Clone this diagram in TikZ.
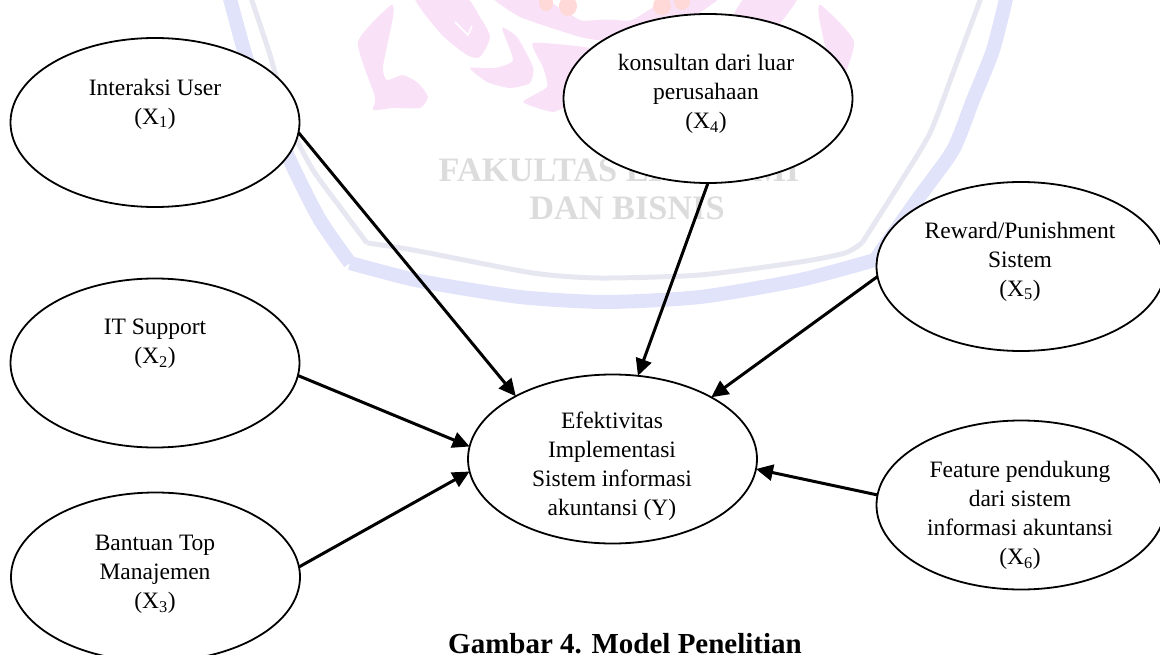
\documentclass[tikz,border=0pt]{standalone}
\usepackage{fontspec}
\setmainfont{Liberation Serif}
\usetikzlibrary{shapes.geometric,arrows.meta}
\definecolor{wmblue}{HTML}{E0E3F9}
\definecolor{wmgrey}{HTML}{E7E7F2}
\definecolor{wmpink}{HTML}{F9E2F8}
\definecolor{wmred}{HTML}{FFD8D8}
\definecolor{wmtext}{HTML}{DCDCDC}
\newcommand{\wmmotif}{%
  \fill[wmpink] plot[smooth cycle,tension=.35] coordinates {(391,5) (358,42) (375,97) (373,110) (393,108) (420,108) (428,97) (418,83) (403,75) (387,80) (383,67) (393,17)};
  \fill[wmpink] plot[smooth cycle,tension=.4] coordinates {(414,-5) (440,33) (467,55) (480,57) (490,37) (480,17) (463,-5)};
  \draw[white,line width=1.5pt] (455,22) -- (468,35) -- (472,26);
  \fill[wmpink] plot[smooth cycle,tension=.35] coordinates {(502,28) (513,60) (495,68) (470,68) (487,82) (510,88) (530,83) (533,67) (517,37)};
  \fill[wmpink] plot[smooth cycle,tension=.3] coordinates {(533,43) (543,67) (547,87) (523,102) (553,112) (575,100) (600,60) (590,48)};
  \fill[wmpink] plot[smooth cycle,tension=.3] coordinates {(490,-5) (520,17) (580,37) (606,40) (606,20) (580,20) (537,-5)};
}
\tikzset{
  construct/.style={ellipse,draw=black,line width=1.8pt,fill=white,minimum width=289pt,minimum height=169pt,inner sep=0pt,outer sep=0pt},
  ctext/.style={align=center,font=\fontsize{23.5}{29}\selectfont,inner sep=0pt},
  influence/.style={line width=3pt,-{Triangle[length=17pt,width=16pt]}},
  wmband/.style={line width=14pt,draw=wmblue,line join=round},
  wmline/.style={line width=5pt,draw=wmgrey,line join=round},
  wmlabel/.style={text=wmtext,font=\fontsize{34.3}{40}\selectfont\bfseries,inner sep=0pt}
}
\begin{document}
\begin{tikzpicture}[x=1pt,y=-1pt]
\useasboundingbox (0,0) rectangle (1160,655);
\clip (0,0) rectangle (1160,655);
% watermark
\draw[wmband] plot[smooth,tension=.4] coordinates {(229,-5) (247,60) (268,110) (293,167) (320,220) (350,263)};
\draw[wmband] plot[smooth,tension=.4] coordinates {(350,263) (420,281) (520,297) (606,302) (700,297) (800,280) (875,260)};
\draw[wmband] plot[smooth,tension=.4] coordinates {(875,260) (917,200) (953,150) (973,100) (993,50) (1007,-5)};
\draw[wmline] plot[smooth,tension=.4] coordinates {(250,-5) (270,55) (290,125) (313,170) (340,207) (367,243)};
\draw[wmline] plot[smooth,tension=.4] coordinates {(367,243) (413,250) (533,273) (600,278) (700,275) (800,262) (845,253) (862,243)};
\draw[wmline] plot[smooth,tension=.4] coordinates {(862,243) (900,183) (930,133) (953,73) (982,-5)};
\wmmotif
\begin{scope}[xshift=1212pt,xscale=-1]
\wmmotif
\end{scope}
\fill[wmred] (568,6) circle[x radius=9pt,y radius=10pt];
\fill[wmred] (546,3) circle[x radius=7pt,y radius=8pt];
\fill[wmred] (662,6) circle[x radius=9pt,y radius=9pt];
\fill[wmred] (682,2) circle[x radius=8pt,y radius=8pt];
\node[wmlabel] (wm1) at (619,170) {FAKULTAS EKONOMI};
\node[wmlabel] (wm2) at (627,208) {DAN BISNIS};
% constructs
\node[construct] (X1) at (155,122.5) {};
\node[construct] (X2) at (155,363) {};
\node[construct] (X3) at (155.5,577) {};
\node[construct] (X4) at (708,98.5) {};
\node[construct] (X5) at (1021,266.5) {};
\node[construct] (X6) at (1021,505) {};
\node[construct] (Y) at (612.5,459) {};
% labels
\node[ctext] (tX1) at (155,104) {Interaksi User\\(X\textsubscript{1})};
\node[ctext] (tX2) at (155,344) {IT Support\\(X\textsubscript{2})};
\node[ctext] (tX3) at (155,574.5) {Bantuan Top\\Manajemen\\(X\textsubscript{3})};
\node[ctext] (tX4) at (706,94) {konsultan dari luar\\perusahaan\\(X\textsubscript{4})};
\node[ctext] (tX5) at (1020,261.5) {Reward/Punishment\\Sistem\\(X\textsubscript{5})};
\node[ctext] (tX6) at (1020,515.5) {Feature pendukung\\dari sistem\\informasi akuntansi\\(X\textsubscript{6})};
\node[ctext] (tY) at (612,466.5) {Efektivitas\\Implementasi\\Sistem informasi\\akuntansi (Y)};
\node[font=\fontsize{29}{32}\selectfont\bfseries,inner sep=0pt,text depth=0pt,anchor=base west] (cap) at (448,653.5) {Gambar 4. Model Penelitian};
% connectors
\draw[influence] (X1.-4.7) -- (Y.147.55);
\draw[influence] (X2.-5.5) -- (Y.175.25);
\draw[influence] (X3.4.8) -- (Y.185.1);
\draw[influence] (X4.-90) -- (Y.73.9);
\draw[influence] (X5.184.5) -- (Y.32.3);
\draw[influence] (X6.176) -- (Y.-4.75);
\end{tikzpicture}
\end{document}
